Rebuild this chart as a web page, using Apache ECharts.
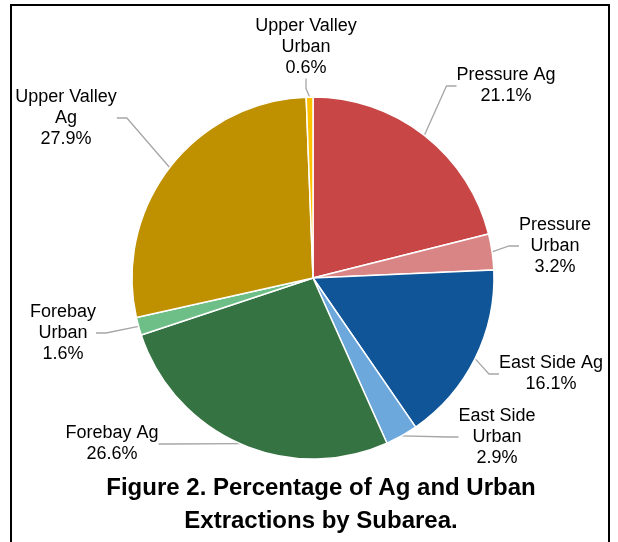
<!DOCTYPE html>
<html>
<head>
<meta charset="utf-8">
<script src="https://cdn.jsdelivr.net/npm/echarts@6/dist/echarts.min.js"></script>
<style>
  html, body { margin: 0; padding: 0; background: #fff; }
  #chart { width: 618px; height: 542px; }
</style>
</head>
<body>
<div id="chart"></div>
<script>
// subareas, clockwise from 12 o'clock
const names = ['Pressure Ag', 'Pressure Urban', 'East Side Ag', 'East Side Urban',
  'Forebay Ag', 'Forebay Urban', 'Upper Valley Ag', 'Upper Valley Urban'];
const shares = [21.1, 3.2, 16.1, 2.9, 26.6, 1.6, 27.9, 0.6];
// how each label wraps in the figure
const labelText = ['Pressure Ag\n21.1%', 'Pressure\nUrban\n3.2%', 'East Side Ag\n16.1%',
  'East Side\nUrban\n2.9%', 'Forebay Ag\n26.6%', 'Forebay\nUrban\n1.6%',
  'Upper Valley\nAg\n27.9%', 'Upper Valley\nUrban\n0.6%'];

const colors = ['#C84646', '#D98585', '#105597', '#6DA8DD', '#357342', '#6DBE87', '#BF9000', '#FFC000'];
// label block centres (px)
const labelPos = [[506, 86], [555, 246], [551, 374], [497, 437], [112, 444], [63, 333], [66, 118], [306, 47]];

const font = 'Arial, "Liberation Sans", sans-serif';
const chart = echarts.init(document.getElementById('chart'));

const option = {
  animation: false,
  title: {
    text: 'Figure 2. Percentage of Ag and Urban\nExtractions by Subarea.',
    left: 316,
    top: 467,
    textAlign: 'center',
    textStyle: { fontFamily: font, fontSize: 24, fontWeight: 'bold', color: '#000', lineHeight: 33 }
  },
  graphic: [{
    type: 'rect',
    shape: { x: 11, y: 5, width: 598, height: 560 },
    style: { fill: 'none', stroke: '#000', lineWidth: 2 },
    silent: true
  }],
  series: [{
    type: 'pie',
    center: [313, 278],
    radius: 181,
    startAngle: 90,
    clockwise: true,
    avoidLabelOverlap: false,
    itemStyle: { borderColor: '#fff', borderWidth: 1.5 },
    label: {
      show: true,
      position: 'outside',
      fontFamily: font,
      fontSize: 18,
      lineHeight: 21,
      color: '#000',
      align: 'center',
      formatter: p => labelText[p.dataIndex]
    },
    labelLine: {
      show: true,
      length: 10,
      length2: 10,
      lineStyle: { color: '#A6A6A6', width: 1.3 }
    },
    labelLayout: p => ({
      x: labelPos[p.dataIndex][0],
      y: labelPos[p.dataIndex][1],
      align: 'center',
      verticalAlign: 'middle'
    }),
    data: names.map((n, i) => ({ name: n, value: shares[i], itemStyle: { color: colors[i] } }))
  }]
};
chart.setOption(option);
</script>
</body>
</html>
